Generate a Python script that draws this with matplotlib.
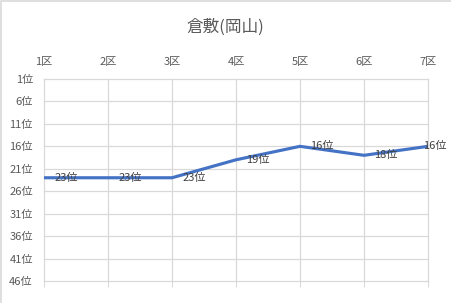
import matplotlib.pyplot as plt
from matplotlib.lines import Line2D

plt.rcParams['font.family'] = ['Noto Sans CJK JP', 'DejaVu Sans']

districts = ["1区", "2区", "3区", "4区", "5区", "6区", "7区"]
ranks = [23, 23, 23, 19, 16, 18, 16]
rank_ticks = [1, 6, 11, 16, 21, 26, 31, 36, 41, 46]
title = "倉敷(岡山)"

GRID = "#D9D9D9"
TEXT = "#595959"
LINE = "#4472C4"

fig = plt.figure(figsize=(4.51, 3.03), dpi=100)
# chart border: only the top and left edges are visible in the crop
fig.add_artist(Line2D([0.003, 0.003, 1], [0, 0.997, 0.997], color=GRID,
                      linewidth=1.2, transform=fig.transFigure))
ax = fig.add_axes([44 / 451, 1 - 281 / 303, 384 / 451, 202 / 303])

x = list(range(len(districts)))
ax.plot(x, ranks, color=LINE, linewidth=2.25, solid_capstyle="round", zorder=3)
for xi, r in zip(x, ranks):
    # last label is pushed back inside the chart, like Excel does
    dx = 7.5 if xi < len(x) - 1 else -3.5
    ax.annotate(f"{r}位", (xi, r), xytext=(dx, 0), textcoords="offset points",
                ha="left", va="center", fontsize=8, color="#404040", zorder=4)

ax.set_xlim(0, len(districts) - 1)
ax.set_ylim(rank_ticks[-1], rank_ticks[0])
ax.set_yticks(rank_ticks)
ax.set_yticklabels([f"{t}位" for t in rank_ticks])
ax.set_xticks(x)
ax.set_xticklabels(districts)
ax.set_xticks(x, minor=True)
ax.xaxis.remove_overlapping_locs = False

ax.tick_params(axis="x", which="major", bottom=False, top=False,
               labelbottom=False, labeltop=True, length=0, pad=9,
               labelsize=8, labelcolor=TEXT)
ax.tick_params(axis="x", which="minor", bottom=True, top=False,
               length=4, width=0.75, color=GRID)
ax.tick_params(axis="y", length=0, pad=8, labelsize=8, labelcolor=TEXT)

ax.grid(True, which="major", color=GRID, linewidth=0.9, clip_on=False)
for s in ax.spines.values():
    s.set_visible(False)
ax.set_axisbelow(True)

fig.text(0.5, 1 - 27 / 303, title, ha="center", va="center",
         fontsize=12, color=TEXT)

fig.savefig("out.png", dpi=100)
